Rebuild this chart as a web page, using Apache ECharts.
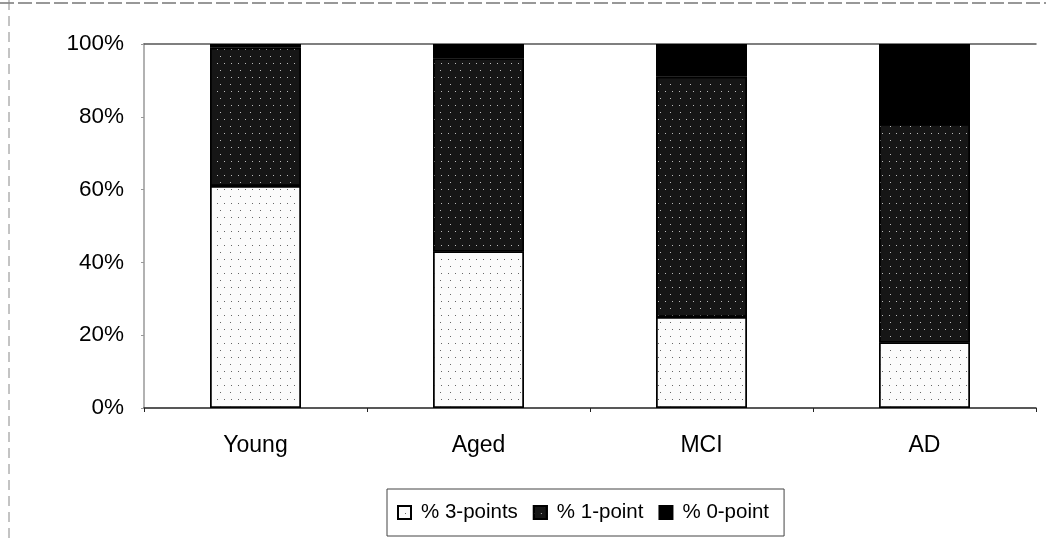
<!DOCTYPE html>
<html>
<head>
<meta charset="utf-8">
<script src="https://cdn.jsdelivr.net/npm/echarts@6/dist/echarts.min.js"></script>
<style>html,body{margin:0;padding:0;background:#fff}#c{width:1046px;height:539px}</style>
</head>
<body>
<div id="c"></div>
<script>
var categories = ['Young', 'Aged', 'MCI', 'AD'];
var threePoints = [61, 43, 25, 18];
var onePoint = [38, 53, 66, 60];
var zeroPoint = [1, 4, 9, 22];
var seriesNames = ['% 3-points', '% 1-point', '% 0-point'];

var chart = echarts.init(document.getElementById('c'));
var font = 'Liberation Sans, Arial, sans-serif';
function bar(name, data, color, decalColor) {
  return {
    name: name, type: 'bar', stack: 'total', data: data, barWidth: 91,
    itemStyle: {
      color: color, borderColor: '#000', borderWidth: 1.5,
      decal: decalColor ? { symbol: 'rect', symbolSize: 1, color: decalColor, dashArrayX: [[1, 6], [1, 9]], dashArrayY: [1, 6], rotation: 0 } : null
    }
  };
}
chart.setOption({
  animation: false,
  backgroundColor: '#fff',
  grid: { left: 144, right: 10, top: 44, bottom: 131 },
  graphic: [
    { type: 'line', shape: { x1: 0, y1: 3, x2: 1046, y2: 3 }, style: { stroke: '#777', lineWidth: 1.5, lineDash: [14, 4] }, silent: true },
    { type: 'line', shape: { x1: 9, y1: 0, x2: 9, y2: 539 }, style: { stroke: '#888', lineWidth: 1, lineDash: [10, 6] }, silent: true }
  ],
  legend: {
    left: 387, top: 489, itemWidth: 13, itemHeight: 13, itemGap: 15,
    padding: [13, 15, 13, 10], borderColor: '#444', borderWidth: 1,
    icon: 'rect',
    textStyle: { fontFamily: font, fontSize: 20.5, color: '#000', padding: [0, 0, 0, 5] },
    data: seriesNames
  },
  xAxis: [{
    type: 'category', data: categories,
    axisLine: { lineStyle: { color: '#222', width: 1.5 } },
    axisTick: { show: true, length: 4, lineStyle: { color: '#222' } },
    axisLabel: { fontFamily: font, fontSize: 23, color: '#000', margin: 26 }
  }, {
    type: 'category', data: categories, position: 'top',
    axisLine: { show: true, lineStyle: { color: '#555', width: 1.5 } },
    axisTick: { show: false }, axisLabel: { show: false }
  }],
  yAxis: {
    type: 'value', min: 0, max: 100, interval: 20,
    axisLine: { show: true, lineStyle: { color: '#999', width: 1.5 } },
    axisTick: { show: true, length: 3, lineStyle: { color: '#999' } },
    splitLine: { show: false },
    axisLabel: { formatter: '{value}%', fontFamily: font, fontSize: 22.5, color: '#000', margin: 20 }
  },
  series: [
    bar(seriesNames[0], threePoints, '#fbfbfb', '#666'),
    bar(seriesNames[1], onePoint, '#161616', '#bbb'),
    bar(seriesNames[2], zeroPoint, '#000', null)
  ]
});
</script>
</body>
</html>
